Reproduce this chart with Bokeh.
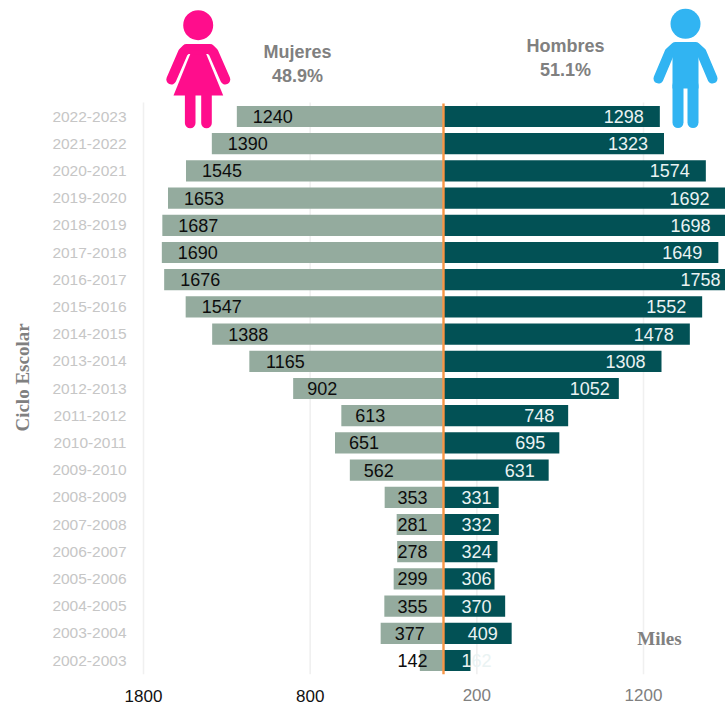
from bokeh.embed import file_html
from bokeh.resources import INLINE
from bokeh.plotting import figure
from bokeh.models import ColumnDataSource, FixedTicker, LinearAxis, Range1d, Label
from bokeh.core.properties import value

ciclos = ["2022-2023","2021-2022","2020-2021","2019-2020","2018-2019","2017-2018","2016-2017",
          "2015-2016","2014-2015","2013-2014","2012-2013","2011-2012","2010-2011","2009-2010",
          "2008-2009","2007-2008","2006-2007","2005-2006","2004-2005","2003-2004","2002-2003"]
mujeres = [1240,1390,1545,1653,1687,1690,1676,1547,1388,1165,902,613,651,562,353,281,278,299,355,377,142]
hombres = [1298,1323,1574,1692,1698,1649,1758,1552,1478,1308,1052,748,695,631,331,332,324,306,370,409,162]
ticks_izq = [1800, 800]
ticks_der = [200, 1200]

UX = 6.0          # units per pixel
CX = 443.0        # page x of zero
Y0 = 660.0        # page y of the last row
ROW = 27.2
def dx(px): return (px - CX) * UX
def dy(py): return (Y0 - py) / ROW

SANS = "Liberation Sans"
SERIF = "Liberation Serif"
n = len(ciclos)
ys = [n - 1 - i for i in range(n)]

p = figure(width=725, height=705, frame_width=725, frame_height=674,
           output_backend="svg", toolbar_location=None,
           x_range=Range1d(dx(0), dx(725)), y_range=Range1d(dy(674), dy(0)),
           min_border_left=0, min_border_right=0, min_border_top=0, min_border_bottom=0,
           outline_line_color=None, background_fill_color="white", border_fill_color="white",
           x_axis_type=None, y_axis_type=None)
p.grid.visible = False

def style_x(ax, color, standoff):
    ax.axis_line_color = None
    ax.major_tick_line_color = None
    ax.minor_tick_line_color = None
    ax.major_label_text_color = color
    ax.major_label_text_font = SANS
    ax.major_label_text_font_size = "17px"
    ax.major_label_standoff = standoff

ax1 = LinearAxis(ticker=FixedTicker(ticks=[-t for t in ticks_izq]),
                 major_label_overrides={-t: str(t) for t in ticks_izq})
style_x(ax1, "#111111", 9)
p.add_layout(ax1, "below")
ax2 = LinearAxis(ticker=FixedTicker(ticks=ticks_der),
                 major_label_overrides={t: str(t) for t in ticks_der})
style_x(ax2, "#808080", -22)
p.add_layout(ax2, "below")

ay = LinearAxis(ticker=FixedTicker(ticks=ys),
                major_label_overrides={y: c for y, c in zip(ys, ciclos)})
ay.axis_line_color = None
ay.major_tick_line_color = None
ay.minor_tick_line_color = None
ay.major_label_text_color = "#c6c6c6"
ay.major_label_text_font = SANS
ay.major_label_text_font_size = "15.5px"
ay.major_label_standoff = -132
p.add_layout(ay, "left")

# grid
grid_x = [-t for t in ticks_izq] + ticks_der
p.segment(x0=grid_x, x1=grid_x, y0=[dy(102)] * 4, y1=[dy(674)] * 4, line_color="#f0f0f0", line_width=1.6)

src = ColumnDataSource(dict(y=ys, m=[-v for v in mujeres], h=hombres,
                            ml=[str(v) for v in mujeres], hl=[str(v) for v in hombres]))
p.hbar(y="y", left="m", right=0, height=0.78, fill_color="#94ab9e", line_color=None, source=src)
p.hbar(y="y", left=0, right="h", height=0.78, fill_color="#025155", line_color=None, source=src)
p.segment(x0=[0], x1=[0], y0=[dy(103)], y1=[dy(674)], line_color="#f79646", line_width=2.4)

def lab_m(v):
    off = 36 if v >= 1000 else 29
    return min(-v + off * UX, -31 * UX)
def lab_h(v):
    off = 36 if v >= 1100 else 29
    return max(v - off * UX, 33 * UX)
src.data["mx"] = [lab_m(v) for v in mujeres]
src.data["hx"] = [lab_h(v) for v in hombres]
p.text(x="mx", y="y", text="ml", source=src, text_align="center", text_baseline="middle",
       text_color="#0d0d0d", text_font=value(SANS), text_font_size="18px")
p.text(x="hx", y="y", text="hl", source=src, text_align="center", text_baseline="middle",
       text_color="#eaf3f3", text_font=value(SANS), text_font_size="18px")

# icons
PINK = "#ff0d8c"
BLUE = "#31b4f2"
def stroke(points, color, w):
    p.line(x=[dx(a) for a, b in points], y=[dy(b) for a, b in points], line_color=color,
           line_width=w, line_cap="round", line_join="round")
def disc(cx, cy, r, color):
    p.circle(x=[dx(cx)], y=[dy(cy)], radius=r * UX, fill_color=color, line_color=None)
def poly(points, color):
    p.patch(x=[dx(a) for a, b in points], y=[dy(b) for a, b in points], fill_color=color, line_color=None)

disc(197.7, 24.7, 15, PINK)
stroke([(170.8, 79), (182.5, 52), (186, 48.5), (209.5, 48.5), (213, 52), (224.8, 79)], PINK, 10)
poly([(190, 53), (205.5, 53), (222.7, 95), (173, 95)], PINK)
poly([(190, 50), (205.5, 50), (205.5, 54), (190, 54)], PINK)
stroke([(189.7, 95), (189.7, 122.5)], PINK, 10.6)
stroke([(206, 95), (206, 122.5)], PINK, 10.6)

disc(685, 23.3, 15, BLUE)
stroke([(658, 78), (669, 52), (675, 46.5), (695, 46.5), (701, 52), (712, 78)], BLUE, 10)
poly([(672, 46), (698, 46), (698, 88), (672, 88)], BLUE)
stroke([(677.5, 85), (677.5, 122)], BLUE, 11)
stroke([(692.5, 85), (692.5, 122)], BLUE, 11)

# headings
def note(txt, px, py, font, size, style="bold", angle=0):
    p.add_layout(Label(x=dx(px), y=dy(py), text=txt, text_align="center", text_baseline="middle",
                       text_color="#808080", text_font=font, text_font_size=size,
                       text_font_style=style, angle=angle))
note("Mujeres", 297, 51, SANS, "18px")
note("48.9%", 297, 75, SANS, "18px")
note("Hombres", 565, 45, SANS, "18px")
note("51.1%", 565, 69, SANS, "18px")
note("Miles", 659, 638, SERIF, "19px")
note("Ciclo Escolar", 22, 377, SERIF, "19px", angle=1.5708)

open("out.html", "w").write(file_html(p, INLINE))
